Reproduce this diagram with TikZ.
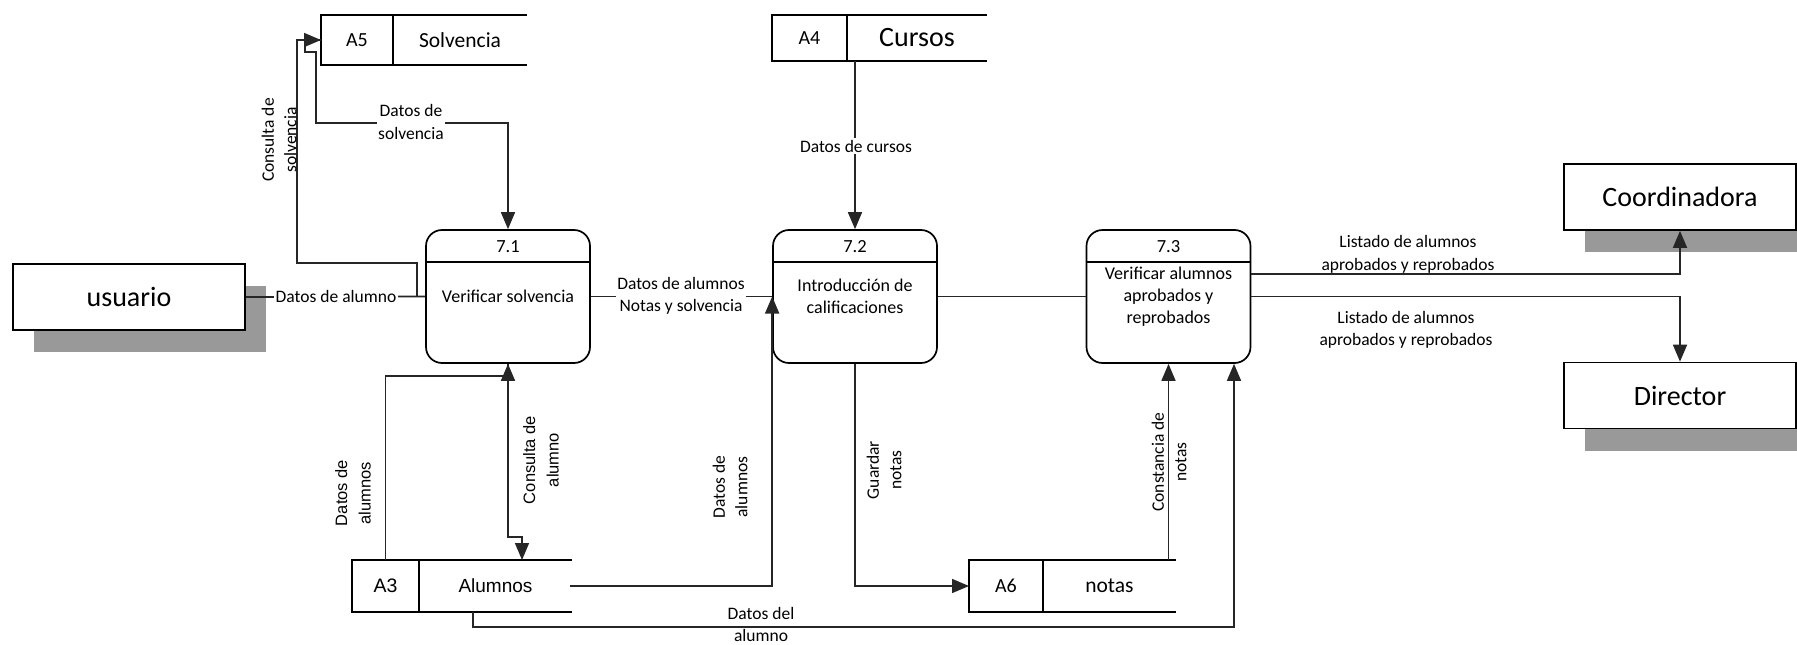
\documentclass[tikz,border=0pt]{standalone}
\usepackage{fontspec}
\setmainfont{Carlito}
\newfontfamily\arialfont{Liberation Sans}
\usetikzlibrary{arrows.meta,shadows,calc}

\tikzset{
  edge/.style={line width=1.7pt, draw=black!85},
  flow/.style={edge, -{Triangle[length=17pt,width=14pt]}},
  ext/.style={draw, line width=1.7pt, fill=white, minimum width=232pt, minimum height=66pt,
    inner sep=0pt, font=\fontsize{28}{32}\selectfont,
    drop shadow={shadow xshift=21pt, shadow yshift=-22pt, fill=black!40, opacity=1}},
  proc/.style={draw, line width=1.7pt, rounded corners=16pt, minimum width=164pt,
    minimum height=133pt, inner sep=0pt, align=center, font=\fontsize{18}{22}\selectfont},
  storeid/.style={draw, line width=1.7pt, inner sep=0pt, outer sep=0pt},
  storename/.style={inner sep=0pt},
  lab/.style={font=\fontsize{17.5}{22.5}\selectfont, align=center, inner sep=1.5pt},
  cut/.style={lab, fill=white},
  rlab/.style={lab, rotate=90},
  arlab/.style={rlab, font=\arialfont\fontsize{16.5}{23.5}\selectfont},
}

% data store: name, left, top, bottom, divider, right end, id text, title text
\newcommand{\dfdstore}[8]{%
  \node[storeid, minimum width={(#5-#2)*1pt}, minimum height={(#4-#3)*1pt},
        anchor=north west] (#1) at (#2,#3) {#7};
  \node[storename] (#1-name) at ({(#5+#6)/2},{(#3+#4)/2}) {#8};
  \draw[line width=1.7pt] (#1.north east) -- (#6,#3) (#1.south east) -- (#6,#4);
}

\begin{document}
\begin{tikzpicture}[x=1pt,y=-1pt]
\useasboundingbox (0,0) rectangle (1797,645);

% external entities
\node[ext] (usuario) at (129,297) {usuario};
\node[ext] (coord) at (1680,197) {Coordinadora};
\node[ext] (director) at (1680,395.5) {Director};

% processes
\node[proc] (p71) at (508,296.5) {Verificar solvencia};
\node[proc] (p72) at (855,296.5) {Introducción de\\calificaciones};
\node[proc] (p73) at (1168.5,296.5) {Verificar alumnos\\aprobados y\\reprobados};
\foreach \p/\n in {p71/7.1,p72/7.2,p73/7.3} {
  \draw[line width=1.7pt] ([yshift=-33pt]\p.north west) -- ([yshift=-33pt]\p.north east);
  \node[lab, font=\fontsize{18.5}{22}\selectfont] (\p-id) at ([yshift=-17pt]\p.north) {\n};
}

% data stores
\dfdstore{a5}{321}{15}{65}{393}{527}{\fontsize{20}{24}\selectfont A5}{\fontsize{21.5}{26}\selectfont Solvencia}
\dfdstore{a4}{772}{15}{61}{847}{987}{\fontsize{20}{24}\selectfont A4}{\fontsize{28}{32}\selectfont Cursos}
\dfdstore{a3}{352}{560}{612}{419}{572}{\arialfont\fontsize{19.5}{24}\selectfont A3}{\arialfont\fontsize{19}{24}\selectfont Alumnos}
\dfdstore{a6}{969}{560}{612}{1043}{1176}{\fontsize{20}{24}\selectfont A6}{\fontsize{21.5}{26}\selectfont notas}

% usuario -> 7.1, with the query to Solvencia branching off
\coordinate (tap) at (417,296.5);
\draw[edge] (usuario.east) -- (p71.west);
\node[cut] at (336,296) {Datos de alumno};
\draw[flow] (tap) -- (417,263) -- (297,263) -- (297,40) -- (a5.west);
\node[rlab] at (279,140) {Consulta de\\solvencia};

% Solvencia -> 7.1
\draw[flow] (a5.west) -- (305,40) -- (305,52) -- (316,52) -- (316,123) -| (p71.north);
\node[cut] at (411,122) {Datos de\\solvencia};

% Cursos -> 7.2
\draw[flow] (p72.north |- a4.south) -- (p72.north);
\node[cut] at (856,146) {Datos de cursos};

% 7.1 -> 7.2 -> 7.3
\draw[edge] (p71.east) -- (p72.west);
\node[cut] at (681,296) {Datos de alumnos\\Notas y solvencia};
\draw[edge] (p72.east) -- (p73.west);

% 7.3 -> Coordinadora, Director
\draw[flow] ([yshift=22.5pt]p73.east) -| (coord.south);
\node[lab] at (1408,254.5) {Listado de alumnos\\aprobados y reprobados};
\draw[flow] (p73.east) -| (director.north);
\node[lab] at (1406,330) {Listado de alumnos\\aprobados y reprobados};

% Alumnos <-> 7.1
\draw[flow] (a3.north) -- (a3.north |- 0,376) -| (p71.south);
\node[arlab] at (353,493) {Datos de\\alumnos};
\draw[flow] (p71.south) -- (p71.south |- 0,537) -- (522,537) -- (a3.north -| 522,0);
\node[arlab] at (541,460) {Consulta de\\alumno};

% Alumnos -> 7.2
\draw[flow] (a3.east -| 570,0) -| (p72.west);
\node[rlab] at (730,487) {Datos de\\alumnos};

% 7.2 -> notas
\draw[flow] (p72.south) |- (a6.west);
\node[rlab] at (884,470) {Guardar\\notas};

% notas -> 7.3
\draw[flow] (p73.south |- a6.north) -- (p73.south);
\node[rlab] at (1169,462) {Constancia de\\notas};

% Alumnos -> 7.3
\draw[flow] (a3.south -| 473,0) -- (473,627) -| (p73.south -| 1234,0);
\node[lab, font=\fontsize{17.5}{21.5}\selectfont] at (761,624.5) {Datos del\\alumno};

\end{tikzpicture}
\end{document}
